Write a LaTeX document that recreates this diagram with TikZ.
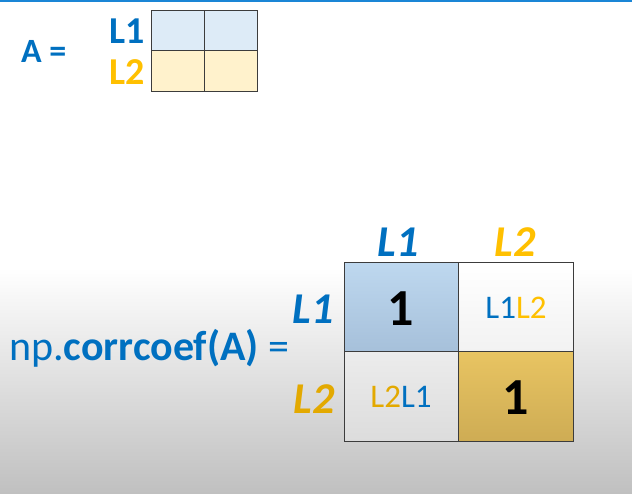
\documentclass[tikz,border=0pt]{standalone}
\usepackage{fontspec}
\setmainfont{Carlito}
\definecolor{xblue}{HTML}{0070C0}
\definecolor{xgold}{HTML}{FFC000}
\definecolor{xgoldd}{HTML}{E3A900}
\definecolor{topline}{HTML}{1A86D6}
\definecolor{bggray}{HTML}{C0C0C0}
\definecolor{lblue}{HTML}{DDEBF7}
\definecolor{lgold}{HTML}{FFF2CC}
\definecolor{gridc}{HTML}{3C3C3C}
\tikzset{
  cellbox/.style={draw=gridc, line width=0.9pt, inner sep=0pt, outer sep=0pt},
  smallcell/.style={cellbox, minimum width=53pt, minimum height=41pt},
  bigcell/.style={cellbox, minimum width=114.5pt, minimum height=89.5pt},
  lab/.style={inner sep=0pt, anchor=base},
}
\newcommand{\fs}[1]{\fontsize{#1}{#1}\selectfont}
\begin{document}
\begin{tikzpicture}[x=1pt,y=-1pt]
\useasboundingbox (0,0) rectangle (632,493);
\fill[white] (0,0) rectangle (632,493);
\shade[top color=white, bottom color=bggray] (0,268) rectangle (632,493);
\fill[topline] (0,0) rectangle (632,1.8);

% small matrix A
\node[smallcell, fill=lblue] (a11) at (177.5,30.5) {};
\node[smallcell, fill=lblue] (a12) at (230.5,30.5) {};
\node[smallcell, fill=lgold] (a21) at (177.5,71) {};
\node[smallcell, fill=lgold] (a22) at (230.5,71) {};
\node[lab, anchor=base west, text=xblue, font=\bfseries\fs{34}] (aeq) at (21,62) {A =};
\node[lab, text=xblue, font=\bfseries\fs{38}] (sl1) at (127,43) {L1};
\node[lab, text=xgold, font=\bfseries\fs{38}] (sl2) at (127,84) {L2};

% big matrix
\node[bigcell, top color={rgb,255:red,190;green,216;blue,239}, bottom color={rgb,255:red,166;green,192;blue,218}] (c11) at (401.25,307) {};
\node[bigcell, top color=white, bottom color={rgb,255:red,242;green,242;blue,242}] (c12) at (515.75,307) {};
\node[bigcell, top color={rgb,255:red,236;green,236;blue,236}, bottom color={rgb,255:red,220;green,220;blue,220}] (c21) at (401.25,396.5) {};
\node[bigcell, top color={rgb,255:red,232;green,196;blue,98}, bottom color={rgb,255:red,206;green,172;blue,84}] (c22) at (515.75,396.5) {};

\node[lab, text=xblue, font=\bfseries\itshape\fs{44}] (cl1) at (398,256) {L1};
\node[lab, text=xgold, font=\bfseries\itshape\fs{44}] (cl2) at (515,256) {L2};
\node[lab, text=xblue, font=\bfseries\itshape\fs{44}] (rl1) at (313,323) {L1};
\node[lab, text=xgoldd, font=\bfseries\itshape\fs{44}] (rl2) at (314,413) {L2};

\node[lab, font=\bfseries\fs{52}] (one1) at (401,325) {1};
\node[lab, font=\bfseries\fs{52}] (one2) at (516,414) {1};
\node[lab, font=\fs{33}] (l1l2) at (516,318) {\textcolor{xblue}{L1}\textcolor{xgold}{L2}};
\node[lab, font=\fs{33}] (l2l1) at (401,407) {\textcolor{xgoldd}{L2}\textcolor{xblue}{L1}};

\node[lab, anchor=base west, text=xblue, font=\fs{42}] (corr) at (9,360) {np.\textbf{corrcoef(A)} =};
\end{tikzpicture}
\end{document}
